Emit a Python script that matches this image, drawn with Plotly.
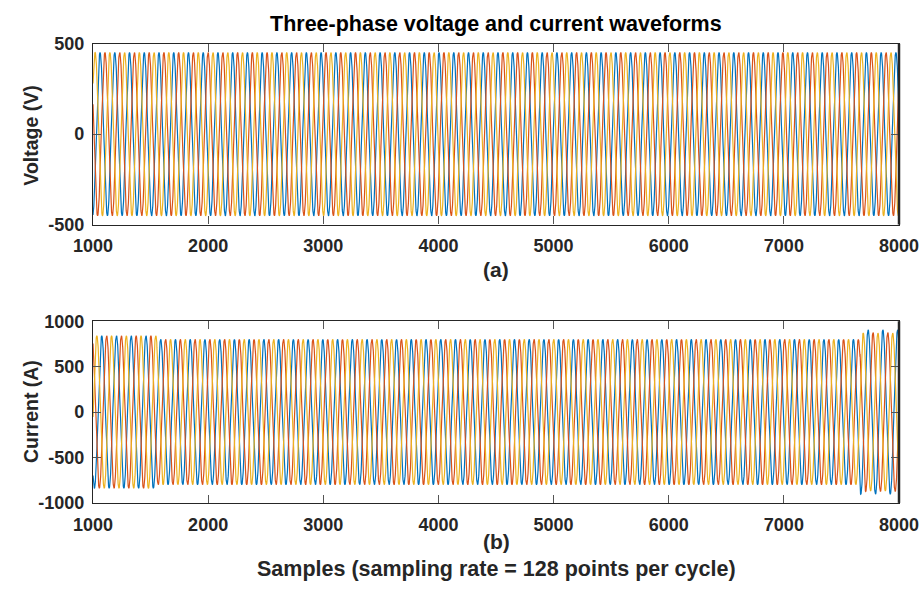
import numpy as np
import plotly.graph_objects as go

# ---- data ----
SAMPLE_START = 1000
SAMPLE_END = 8000
POINTS_PER_CYCLE = 128
PHASE_NAMES = ["Phase A", "Phase B", "Phase C"]
PHASE_SHIFT_DEG = [0, -120, 120]
PHASE_COLORS = ["#0072BD", "#D95319", "#EDB120"]

VOLTAGE_AMPLITUDE = [452, 452, 452]          # V
VOLTAGE_PEAK_SAMPLE = 1061                   # first phase-A peak

CURRENT_SEGMENT_BREAKS = [1000, 1555, 7662, 8001]
CURRENT_AMPLITUDE = [                        # A, per segment
    [840, 800, 905],
    [840, 800, 875],
    [840, 800, 870],
]
CURRENT_PEAK_SAMPLE = 1076

X_TICKS = [1000, 2000, 3000, 4000, 5000, 6000, 7000, 8000]
X_TICK_LABELS = ["1000", "2000", "3000", "4000", "5000", "6000", "7000", "8000"]
V_TICKS = [-500, 0, 500]
V_TICK_LABELS = ["-500", "0", "500"]
I_TICKS = [-1000, -500, 0, 500, 1000]
I_TICK_LABELS = ["-1000", "-500", "0", "500", "1000"]

samples = np.arange(SAMPLE_START, SAMPLE_END + 1)


def phase_wave(amp, peak, shift_deg):
    theta = 2 * np.pi * (samples - peak) / POINTS_PER_CYCLE + np.deg2rad(shift_deg)
    return amp * np.cos(theta)


def segment_amplitude(levels):
    amp = np.zeros(len(samples))
    for k in range(len(levels)):
        m = (samples >= CURRENT_SEGMENT_BREAKS[k]) & (samples < CURRENT_SEGMENT_BREAKS[k + 1])
        amp[m] = levels[k]
    return amp


fig = go.Figure()
for i in range(3):
    fig.add_trace(go.Scatter(
        x=samples, y=phase_wave(VOLTAGE_AMPLITUDE[i], VOLTAGE_PEAK_SAMPLE, PHASE_SHIFT_DEG[i]),
        mode="lines", line=dict(color=PHASE_COLORS[i], width=1.2),
        name=PHASE_NAMES[i], xaxis="x", yaxis="y", showlegend=False))
for i in range(3):
    fig.add_trace(go.Scatter(
        x=samples, y=phase_wave(segment_amplitude(CURRENT_AMPLITUDE[i]), CURRENT_PEAK_SAMPLE, PHASE_SHIFT_DEG[i]),
        mode="lines", line=dict(color=PHASE_COLORS[i], width=1.2),
        name=PHASE_NAMES[i], xaxis="x2", yaxis="y2", showlegend=False))

H = 596.0
FONT = "Arial, 'Liberation Sans', sans-serif"
axcol = "#262626"
tickfont = dict(family=FONT, size=18, color=axcol, weight="bold")

common_x = dict(range=[SAMPLE_START, SAMPLE_END], tickvals=X_TICKS, ticktext=X_TICK_LABELS,
                showline=True, mirror="ticks", linecolor=axcol, linewidth=1.2,
                ticks="inside", ticklen=8, tickcolor="#555555", tickwidth=1,
                showgrid=False, zeroline=False, tickfont=tickfont, ticklabelstandoff=5)
common_y = dict(showline=True, mirror="ticks", linecolor=axcol, linewidth=1.2,
                ticks="inside", ticklen=8, tickcolor="#555555", tickwidth=1,
                showgrid=False, zeroline=False, tickfont=tickfont, ticklabelstandoff=4)

lab = dict(family=FONT, size=21, color=axcol, weight="bold")

fig.update_layout(
    width=924, height=596,
    margin=dict(l=93, r=25, t=0, b=0),
    paper_bgcolor="white", plot_bgcolor="white",
    xaxis=dict(domain=[0, 1], anchor="y", **common_x),
    yaxis=dict(domain=[1 - 222 / H, 1 - 35 / H], anchor="x", range=[-500, 500],
               tickvals=V_TICKS, ticktext=V_TICK_LABELS, **common_y),
    xaxis2=dict(domain=[0, 1], anchor="y2", **common_x),
    yaxis2=dict(domain=[1 - 510 / H, 1 - 322 / H], anchor="x2", range=[-1000, 1000],
                tickvals=I_TICKS, ticktext=I_TICK_LABELS, **common_y),
    shapes=[
        dict(type="line", xref="paper", yref="paper", x0=1, x1=1,
             y0=1 - 222 / H, y1=1 - 35 / H, line=dict(color=axcol, width=2.5)),
        dict(type="line", xref="paper", yref="paper", x0=1, x1=1,
             y0=1 - 510 / H, y1=1 - 322 / H, line=dict(color=axcol, width=2.5)),
    ],
    annotations=[
        dict(text="Three-phase voltage and current waveforms", xref="paper", yref="paper",
             x=0.5, y=1 - 15 / H, xanchor="center", yanchor="middle", showarrow=False,
             font=dict(family=FONT, size=21.5, color="black", weight="bold")),
        dict(text="(a)", xref="paper", yref="paper", x=0.5, y=1 - 268 / H,
             xanchor="center", yanchor="middle", showarrow=False, font=lab),
        dict(text="(b)", xref="paper", yref="paper", x=0.5, y=1 - 550 / H,
             xanchor="center", yanchor="middle", showarrow=False, font=lab),
        dict(text="Samples (sampling rate = 128 points per cycle)", xref="paper", yref="paper",
             x=0.5, y=1 - 578 / H, xanchor="center", yanchor="middle", showarrow=False,
             font=dict(family=FONT, size=21.5, color=axcol, weight="bold")),
        dict(text="Voltage (V)", xref="paper", yref="paper", x=(31 - 93) / 806, y=1 - 130 / H,
             xanchor="center", yanchor="middle", textangle=-90, showarrow=False,
             font=dict(family=FONT, size=19.5, color=axcol, weight="bold")),
        dict(text="Current (A)", xref="paper", yref="paper", x=(31 - 93) / 806, y=1 - 416 / H,
             xanchor="center", yanchor="middle", textangle=-90, showarrow=False,
             font=dict(family=FONT, size=19.5, color=axcol, weight="bold")),
    ],
)

fig.write_html("out.html")
